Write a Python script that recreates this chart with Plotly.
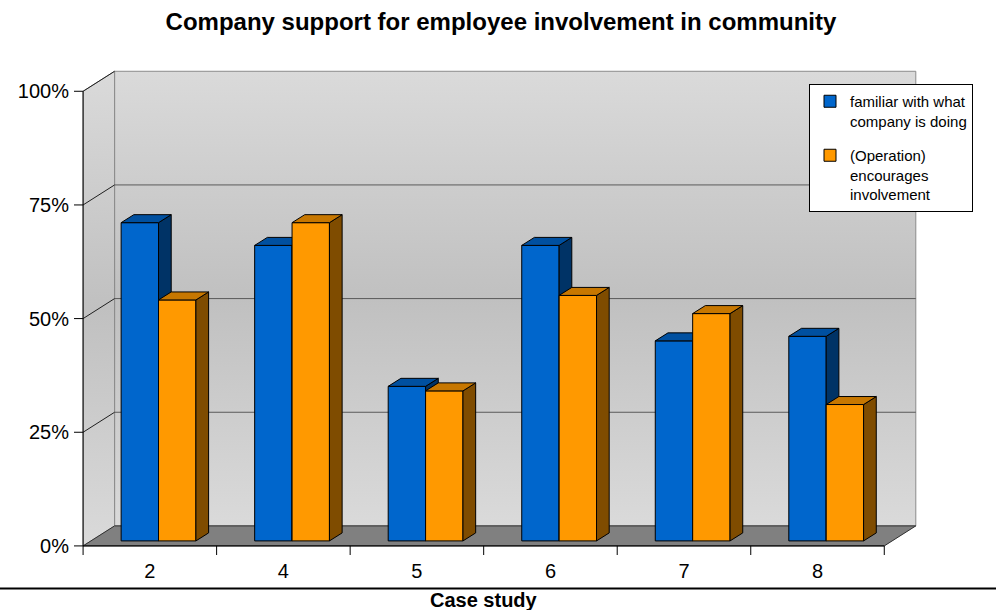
import plotly.graph_objects as go

# ---------------- data ----------------
cases = ["2", "4", "5", "6", "7", "8"]
familiar = [70, 65, 34, 65, 44, 45]
encourages = [53, 70, 33, 54, 50, 30]
y_tick_vals = [0, 25, 50, 75, 100]
y_tick_text = ["0%", "25%", "50%", "75%", "100%"]
series_names = ["familiar with what<br>company is doing",
                "(Operation)<br>encourages<br>involvement"]
chart_title = "Company support for employee involvement in community"
x_title = "Case study"

# ---------------- style / pseudo-3D geometry ----------------
FONT = "Arial, 'Liberation Sans', sans-serif"
WALL_DX, WALL_DY = 0.236, 4.4       # depth of the back wall (x units, % units)
BAR_SHIFT_X, BAR_BASE = 0.065, 1.1  # bar front face position inside the box
BAR_W = 0.28
DEPTH_DX, DEPTH_DY = 0.095, 1.76    # depth of each bar
colors = [
    dict(front="#0066cc", top="#0050a0", side="#003366"),
    dict(front="#ff9900", top="#c77700", side="#7f4c00"),
]
n = len(cases)
XL, XR = -0.5, n - 0.5
YMAX = y_tick_vals[-1]

fig = go.Figure()

wall_grad = dict(type="vertical",
                 colorscale=[[0, "#dadada"], [0.5, "#c0c0c0"], [1, "#dadada"]])

# back wall
fig.add_trace(go.Scatter(
    x=[XL + WALL_DX, XR + WALL_DX, XR + WALL_DX, XL + WALL_DX, XL + WALL_DX],
    y=[WALL_DY, WALL_DY, YMAX + WALL_DY, YMAX + WALL_DY, WALL_DY],
    mode="lines", fill="toself", fillgradient=wall_grad,
    line=dict(color="#8a8a8a", width=1), hoverinfo="skip", showlegend=False, zorder=0))
# left side wall
fig.add_trace(go.Scatter(
    x=[XL, XL + WALL_DX, XL + WALL_DX, XL, XL],
    y=[0, WALL_DY, YMAX + WALL_DY, YMAX, 0],
    mode="lines", fill="toself", fillgradient=wall_grad,
    line=dict(color="#8a8a8a", width=1), hoverinfo="skip", showlegend=False, zorder=0))
# floor
fig.add_trace(go.Scatter(
    x=[XL, XR, XR + WALL_DX, XL + WALL_DX, XL],
    y=[0, 0, WALL_DY, WALL_DY, 0],
    mode="lines", fill="toself", fillcolor="#808080",
    line=dict(color="#303030", width=1), hoverinfo="skip", showlegend=False, zorder=0))

# gridlines on back wall + diagonals on left wall
gx, gy, dx_, dy_ = [], [], [], []
for v in y_tick_vals[1:-1]:
    gx += [XL + WALL_DX, XR + WALL_DX, None]
    gy += [v + WALL_DY, v + WALL_DY, None]
for v in y_tick_vals[1:]:
    dx_ += [XL, XL + WALL_DX, None]
    dy_ += [v, v + WALL_DY, None]
fig.add_trace(go.Scatter(x=gx, y=gy, mode="lines", line=dict(color="#5a5a5a", width=1),
                         hoverinfo="skip", showlegend=False, zorder=0))
fig.add_trace(go.Scatter(x=dx_, y=dy_, mode="lines", line=dict(color="#202020", width=1),
                         hoverinfo="skip", showlegend=False, zorder=0))

# front axis lines and tick marks
ax_x, ax_y = [XL, XL, None, XL, XR, None], [0, YMAX, None, 0, 0, None]
for i in range(n + 1):
    ax_x += [XL + i, XL + i, None]
    ax_y += [0, -2.5, None]
for v in y_tick_vals:
    ax_x += [XL - 0.08, XL, None]
    ax_y += [v, v, None]
fig.add_trace(go.Scatter(x=ax_x, y=ax_y, mode="lines", line=dict(color="black", width=1),
                         hoverinfo="skip", showlegend=False, zorder=0))

# bars
xs = list(range(n))
for s, (vals, name, col) in enumerate(zip([familiar, encourages], series_names, colors)):
    offset = BAR_SHIFT_X - BAR_W + s * BAR_W
    z = 1 + 2 * s
    fig.add_trace(go.Bar(
        x=xs, y=vals, base=[BAR_BASE] * n, offset=offset, width=BAR_W, name=name,
        legendgroup="g%d" % s,
        marker=dict(color=col["front"], line=dict(color="black", width=1)),
        customdata=cases, hovertemplate="Case %{customdata}: %{y}%<extra></extra>",
        zorder=z))
    sx, sy, tx, ty = [], [], [], []
    for i, v in enumerate(vals):
        xl = i + offset
        xr = xl + BAR_W
        top = BAR_BASE + v
        sx += [xr, xr + DEPTH_DX, xr + DEPTH_DX, xr, xr, None]
        sy += [BAR_BASE, BAR_BASE + DEPTH_DY, top + DEPTH_DY, top, BAR_BASE, None]
        tx += [xl, xr, xr + DEPTH_DX, xl + DEPTH_DX, xl, None]
        ty += [top, top, top + DEPTH_DY, top + DEPTH_DY, top, None]
    fig.add_trace(go.Scatter(x=sx, y=sy, mode="lines", fill="toself", fillcolor=col["side"],
                             line=dict(color="black", width=1), hoverinfo="skip",
                             showlegend=False, zorder=z + 1, legendgroup="g%d" % s))
    fig.add_trace(go.Scatter(x=tx, y=ty, mode="lines", fill="toself", fillcolor=col["top"],
                             line=dict(color="black", width=1), hoverinfo="skip",
                             showlegend=False, zorder=z + 1, legendgroup="g%d" % s))

fig.update_layout(
    width=996, height=610,
    margin=dict(l=74, r=77, t=64, b=55, autoexpand=False),
    paper_bgcolor="white", plot_bgcolor="rgba(0,0,0,0)",
    barmode="overlay",
    font=dict(family=FONT, color="black"),
    title=dict(text="<b>" + chart_title + "</b>", xref="container", yref="container",
               x=0.503, y=1 - 22 / 610, xanchor="center", yanchor="middle",
               font=dict(size=24, family=FONT, color="black")),
    xaxis=dict(range=[XL - 0.068, XR + 0.26], tickvals=xs, ticktext=cases, ticks="",
               showgrid=False, zeroline=False, showline=False, fixedrange=True,
               tickfont=dict(size=20), ticklabelstandoff=2),
    yaxis=dict(range=[-2, 106], tickvals=y_tick_vals, ticktext=y_tick_text, ticks="",
               showgrid=False, zeroline=False, showline=False, fixedrange=True,
               tickfont=dict(size=20), ticklabelstandoff=4),
    legend=dict(x=(809 - 74) / 845, y=(555 - 84) / 491, xanchor="left", yanchor="top",
                bgcolor="white", bordercolor="black", borderwidth=1,
                font=dict(size=15, family=FONT), valign="top", traceorder="grouped",
                tracegroupgap=12),
    shapes=[dict(type="line", xref="paper", yref="paper", x0=-0.2, x1=1.2,
                 y0=(555 - 588.5) / 491, y1=(555 - 588.5) / 491,
                 line=dict(color="black", width=2))],
    annotations=[dict(text="<b>" + x_title + "</b>", xref="x", yref="paper",
                      x=(XL + XR) / 2, y=(555 - 600) / 491, xanchor="center",
                      yanchor="middle", showarrow=False,
                      font=dict(size=20, family=FONT, color="black"))],
)

fig.write_html("out.html", post_script="document.body.style.margin='0';",
               config={"displayModeBar": False})
